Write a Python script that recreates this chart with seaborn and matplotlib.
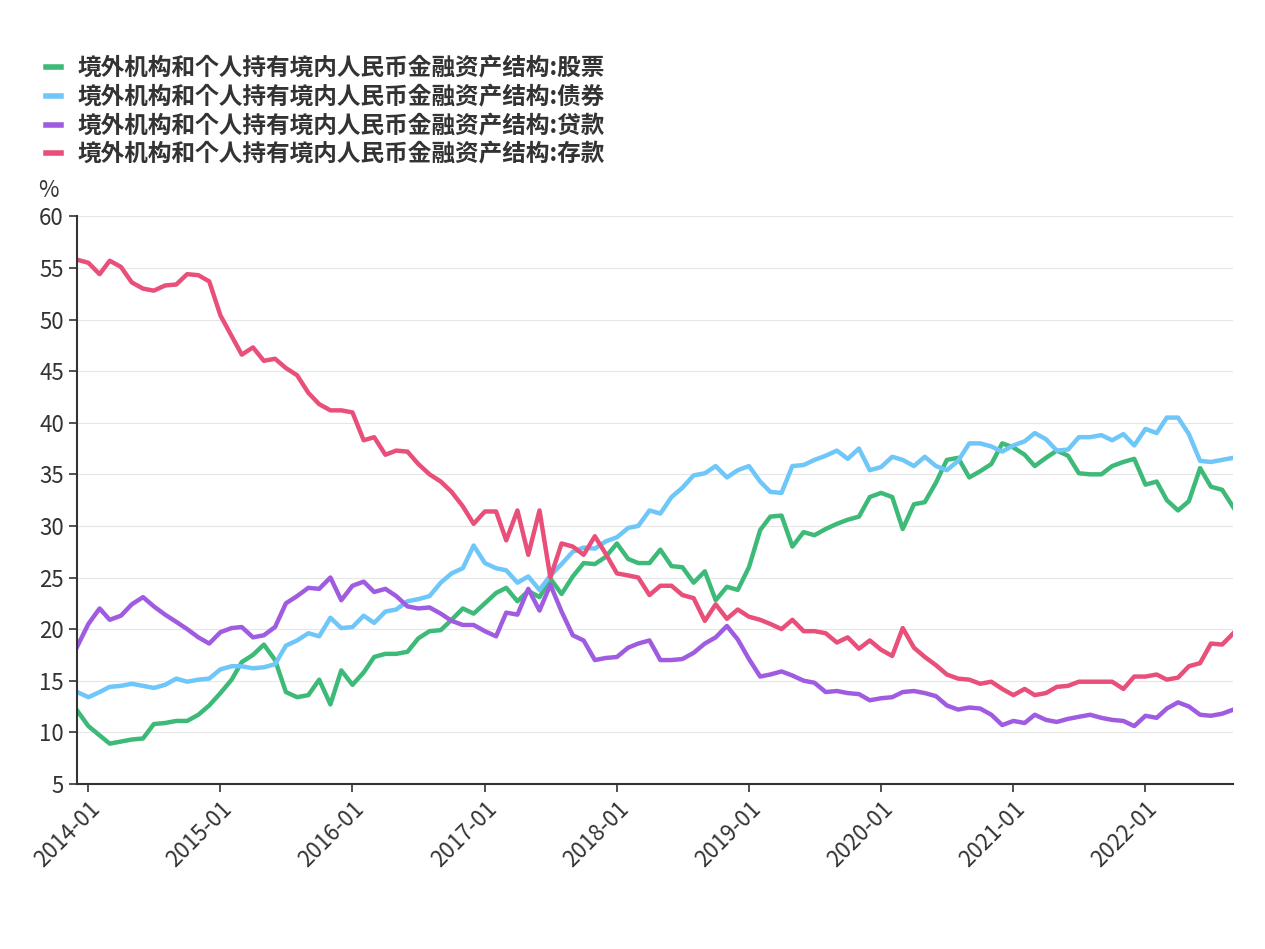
import matplotlib
matplotlib.use("Agg")
import matplotlib.pyplot as plt
import matplotlib.dates as mdates
from matplotlib import font_manager as fm
import seaborn as sns
import pandas as pd

cands = ["Noto Sans CJK SC", "Noto Sans CJK JP", "Noto Sans CJK TC", "Noto Sans CJK KR"]
avail = {f.name for f in fm.fontManager.ttflist}
fams = [c for c in cands if c in avail] + ["DejaVu Sans"]
plt.rcParams["font.family"] = "sans-serif"
plt.rcParams["font.sans-serif"] = fams

dates = pd.date_range("2013-12-01", periods=106, freq="MS")

stocks = [12.1,10.6,9.7,8.9,9.1,9.3,9.4,10.8,10.9,11.1,11.1,11.7,12.6,13.8,15.1,16.8,17.5,18.5,17.0,13.9,
13.4,13.6,15.1,12.7,16.0,14.6,15.8,17.3,17.6,17.6,17.8,19.1,19.8,19.9,20.9,22.0,21.5,22.5,23.5,24.0,
22.7,23.7,23.1,24.9,23.4,25.1,26.4,26.3,27.0,28.3,26.8,26.4,26.4,27.7,26.1,26.0,24.5,25.6,22.8,24.1,
23.8,26.0,29.6,30.9,31.0,28.0,29.4,29.1,29.7,30.2,30.6,30.9,32.8,33.2,32.8,29.7,32.1,32.3,34.2,36.4,
36.6,34.7,35.3,36.0,38.0,37.6,36.9,35.8,36.6,37.3,36.8,35.1,35.0,35.0,35.8,36.2,36.5,34.0,34.3,32.5,
31.5,32.4,35.6,33.8,33.5,31.8]
bonds = [13.9,13.4,13.9,14.4,14.5,14.7,14.5,14.3,14.6,15.2,14.9,15.1,15.2,16.1,16.4,16.4,16.2,16.3,16.6,18.4,
18.9,19.6,19.3,21.1,20.1,20.2,21.3,20.6,21.7,21.9,22.7,22.9,23.2,24.5,25.4,25.9,28.1,26.4,25.9,25.7,
24.5,25.1,23.8,25.2,26.3,27.5,27.9,27.8,28.5,28.9,29.8,30.0,31.5,31.2,32.8,33.7,34.9,35.1,35.8,34.7,
35.4,35.8,34.3,33.3,33.2,35.8,35.9,36.4,36.8,37.3,36.5,37.5,35.4,35.7,36.7,36.4,35.8,36.7,35.8,35.4,
36.3,38.0,38.0,37.7,37.2,37.8,38.2,39.0,38.4,37.3,37.4,38.6,38.6,38.8,38.3,38.9,37.8,39.4,39.0,40.5,
40.5,38.9,36.3,36.2,36.4,36.6]
loans = [18.3,20.5,22.0,20.9,21.3,22.4,23.1,22.2,21.4,20.7,20.0,19.2,18.6,19.7,20.1,20.2,19.2,19.4,20.2,22.5,
23.2,24.0,23.9,25.0,22.8,24.2,24.6,23.6,23.9,23.2,22.2,22.0,22.1,21.5,20.8,20.4,20.4,19.8,19.3,21.6,
21.4,23.9,21.8,24.3,21.7,19.4,18.9,17.0,17.2,17.3,18.2,18.6,18.9,17.0,17.0,17.1,17.7,18.6,19.2,20.3,
19.0,17.1,15.4,15.6,15.9,15.5,15.0,14.8,13.9,14.0,13.8,13.7,13.1,13.3,13.4,13.9,14.0,13.8,13.5,12.6,
12.2,12.4,12.3,11.7,10.7,11.1,10.9,11.7,11.2,11.0,11.3,11.5,11.7,11.4,11.2,11.1,10.6,11.6,11.4,12.3,
12.9,12.5,11.7,11.6,11.8,12.2]
deposits = [55.8,55.5,54.4,55.7,55.1,53.6,53.0,52.8,53.3,53.4,54.4,54.3,53.7,50.4,48.4,46.6,47.3,46.0,46.2,45.3,
44.6,42.9,41.8,41.2,41.2,41.0,38.3,38.6,36.9,37.3,37.2,36.0,35.0,34.3,33.3,31.9,30.2,31.4,31.4,28.6,
31.5,27.2,31.5,25.0,28.3,28.0,27.2,29.0,27.3,25.4,25.2,25.0,23.3,24.2,24.2,23.3,23.0,20.8,22.4,21.0,
21.9,21.2,20.9,20.5,20.0,20.9,19.8,19.8,19.6,18.7,19.2,18.1,18.9,18.0,17.4,20.1,18.2,17.3,16.5,15.6,
15.2,15.1,14.7,14.9,14.2,13.6,14.2,13.6,13.8,14.4,14.5,14.9,14.9,14.9,14.9,14.2,15.4,15.4,15.6,15.1,
15.3,16.4,16.7,18.6,18.5,19.6]

prefix = "境外机构和个人持有境内人民币金融资产结构:"
names = [prefix + s for s in ["股票", "债券", "贷款", "存款"]]
colors = ["#3dba78", "#6ec6f9", "#a05ce0", "#e8507a"]

df = pd.DataFrame({"date": dates, names[0]: stocks, names[1]: bonds,
                   names[2]: loans, names[3]: deposits})
long = df.melt("date", var_name="series", value_name="value")

fig = plt.figure(figsize=(12.65, 9.49), dpi=100)
ax = fig.add_axes([0.061, 0.174, 0.914, 0.598])
sns.lineplot(data=long, x="date", y="value", hue="series", palette=colors,
             linewidth=3.2, ax=ax, legend=True)

ax.set_xlim(pd.Timestamp("2013-12-01"), pd.Timestamp("2022-09-01"))
ax.set_ylim(5, 60)
ax.set_yticks(range(5, 61, 5))
ax.xaxis.set_major_locator(mdates.YearLocator(month=1))
ax.xaxis.set_major_formatter(mdates.DateFormatter("%Y-%m"))
plt.setp(ax.get_xticklabels(), rotation=45, ha="right", rotation_mode="anchor")
ax.tick_params(axis="both", labelsize=16, colors="#333333")
ax.tick_params(axis="x", length=6, width=1.2)
ax.tick_params(axis="y", length=6, width=1.2)
ax.grid(axis="y", color="#e6e6e6", linewidth=0.8)
ax.set_axisbelow(True)
for s in ["top", "right"]:
    ax.spines[s].set_visible(False)
for s in ["left", "bottom"]:
    ax.spines[s].set_color("#333333")
    ax.spines[s].set_linewidth(1.5)
ax.set_xlabel("")
ax.set_ylabel("")
ax.text(-0.025, 1.025, "%", transform=ax.transAxes, fontsize=16, color="#333333",
        ha="center", va="bottom")

leg = ax.legend(loc="lower left", bbox_to_anchor=(-0.045, 1.05), frameon=False,
                handlelength=0.6, handletextpad=0.7, labelspacing=0.2,
                prop={"weight": "bold", "size": 17})
for t in leg.get_texts():
    t.set_color("#333333")
for h in leg.get_lines():
    h.set_linewidth(4)

fig.savefig("out.png", dpi=100)
